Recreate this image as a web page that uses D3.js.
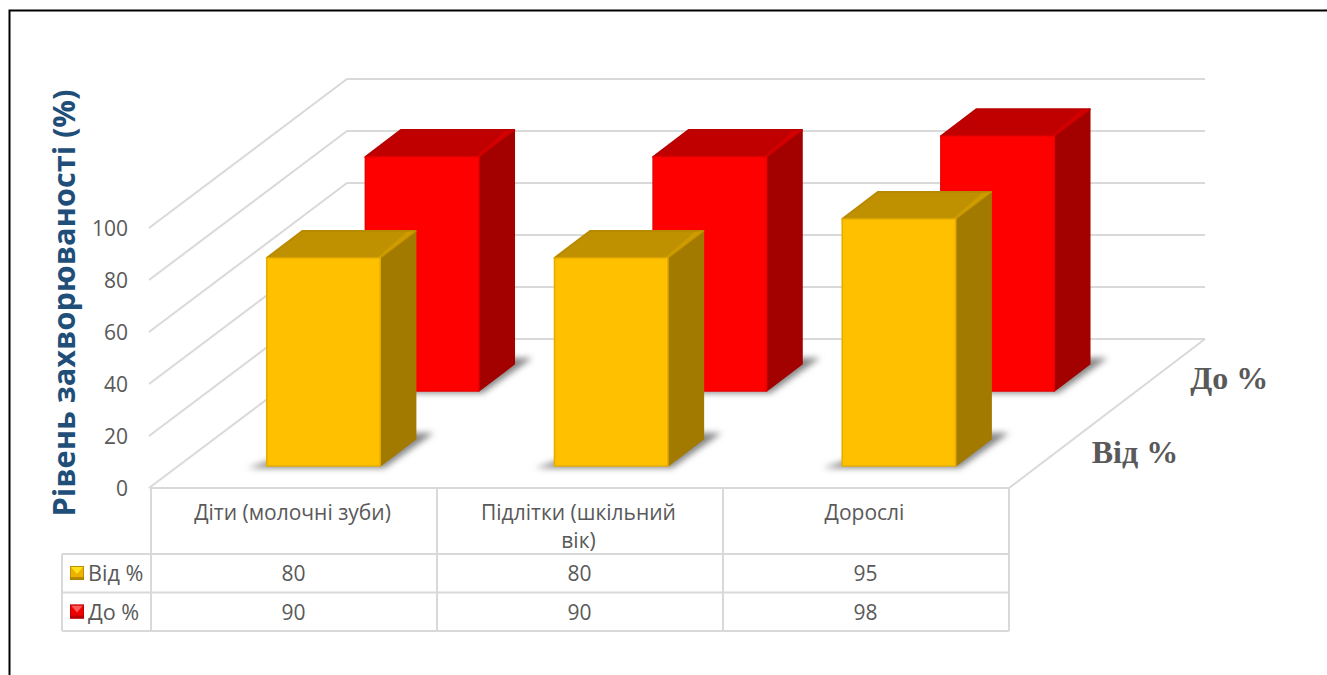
<!DOCTYPE html>
<html lang="uk">
<head>
<meta charset="utf-8">
<title>Рівень захворюваності</title>
<script src="https://cdn.jsdelivr.net/npm/d3@7"></script>
<style>
  html, body { margin: 0; padding: 0; background: #fff; }
  svg { display: block; }
  text { font-family: "Open Sans", sans-serif; fill: #595959; }
</style>
</head>
<body>
<svg id="chart" width="1327" height="675"></svg>
<script>
// Chart data
const categories = ["Діти (молочні зуби)", "Підлітки (шкільний вік)", "Дорослі"];
const categoryLines = [["Діти (молочні зуби)"], ["Підлітки (шкільний", "вік)"], ["Дорослі"]];
const seriesNames = ["Від %", "До %"];
const fromValues = [80, 80, 95];
const toValues = [90, 90, 98];
const yTicks = [0, 20, 40, 60, 80, 100];
const yTitle = "Рівень захворюваності (%)";

const seriesValues = [fromValues, toValues];
const palette = [
  { front: "#FFC000", top: "#BF9000", side: "#A37A00", edge: "#E6AD00", topEdge: "#B88A00", glint: "#CF9C00",
    keyTop: "#FFE21A", keySide: "#EDB200", keyBottom: "#B88A00", keyRim: "#A37A00" },
  { front: "#FF0000", top: "#C00000", side: "#A30000", edge: "#EE0000", topEdge: "#B80000", glint: "#D40000",
    keyTop: "#FF5A5A", keySide: "#F00000", keyBottom: "#BC0000", keyRim: "#A30000" }
];
const shadowColor = "#858585";

// Oblique projection of the 3D box: category position, value height, series depth
const floor = { left: 151, right: 1009, front: 488, dx: 196, dy: -149 };
const columnX = d3.scaleBand().domain(d3.range(categories.length)).range([floor.left, floor.right]);
const x = d3.scaleBand().domain(d3.range(categories.length))
  .range([floor.left + 0.5, 1013]).paddingInner(0.606).paddingOuter(0.3);
const depth = d3.scaleBand().domain(d3.range(seriesNames.length))
  .range([0, 1]).paddingInner(0.64).paddingOuter(0.3136).align(0.468);
const height = d3.scaleLinear().domain([0, 100]).range([0, 260]);
const yAxisScale = d3.scaleLinear().domain([0, 100]).range([floor.front, floor.front - 260]);

const project = (px, v, d) => [px + d * floor.dx, floor.front - height(v) + d * floor.dy];
const poly = pts => "M" + pts.map(p => p.join(",")).join("L") + "Z";

const svg = d3.select("#chart");
const defs = svg.append("defs");
defs.append("filter").attr("id", "soft")
  .attr("x", "-30%").attr("y", "-60%").attr("width", "160%").attr("height", "220%")
  .append("feGaussianBlur").attr("stdDeviation", 3.4);

// Outer frame
svg.append("path").attr("d", "M1327,10.5H9.5V675").attr("fill", "none").attr("stroke", "#000").attr("stroke-width", 2);

const gridColor = "#d9d9d9";

// Walls: side lines and back lines per tick
const grid = svg.append("g").attr("fill", "none").attr("stroke", gridColor).attr("stroke-width", 2);
grid.selectAll("path.tick-line").data(yTicks).join("path")
  .attr("class", "tick-line")
  .attr("d", t => {
    const a = project(floor.left, t, 0), b = project(floor.left, t, 1), c = project(floor.right, t, 1);
    return `M${a[0] - 2},${a[1]}L${b[0]},${b[1]}L${c[0]},${c[1]}`;
  });
// Right-hand floor edge
const fr0 = project(floor.right, 0, 0), fr1 = project(floor.right, 0, 1);
grid.append("line").attr("x1", fr0[0]).attr("y1", fr0[1]).attr("x2", fr1[0]).attr("y2", fr1[1]);

// Bars, back row first so the nearer row overlaps it
const barLayer = svg.append("g");
[1, 0].forEach(s => {
  const col = palette[s];
  const d0 = depth(s), d1 = d0 + depth.bandwidth();
  seriesValues[s].forEach((v, c) => {
    const xa = x(c), xb = xa + x.bandwidth();
    const g = barLayer.append("g");

    // Soft contact shadow on the floor
    const s0 = project(xa, 0, d0), s1 = project(xb, 0, d0), s2 = project(xb, 0, d1);
    g.append("path")
      .attr("d", poly([[s0[0] - 19, s0[1] + 2], [s1[0] + 4, s1[1] + 2], [s2[0] + 18, s2[1] - 6], [s2[0] - 60, s2[1] - 6]]))
      .attr("fill", shadowColor).attr("filter", "url(#soft)");

    const fbl = project(xa, 0, d0), fbr = project(xb, 0, d0);
    const ftl = project(xa, v, d0), ftr = project(xb, v, d0);
    const bbr = project(xb, 0, d1), btr = project(xb, v, d1), btl = project(xa, v, d1);

    // Right side face
    g.append("path").attr("d", poly([fbr, bbr, btr, ftr]))
      .attr("fill", col.side).attr("stroke", col.side).attr("stroke-width", 1.5).attr("stroke-linejoin", "round");
    // Top face
    g.append("path").attr("d", poly([ftl, ftr, btr, btl]))
      .attr("fill", col.top).attr("stroke", col.topEdge).attr("stroke-width", 2).attr("stroke-linejoin", "round");
    // Bevel glint along the top's right edge
    g.append("path").attr("d", poly([ftr, btr, [btr[0] - 9, btr[1] + 1], [ftr[0] - 3, ftr[1]]]))
      .attr("fill", col.glint);
    // Front face
    g.append("path").attr("d", poly([fbl, fbr, ftr, ftl]))
      .attr("fill", col.front).attr("stroke", col.edge).attr("stroke-width", 1.6).attr("stroke-linejoin", "round");
  });
});

// Value axis labels
const yAxis = d3.axisLeft(yAxisScale).tickValues(yTicks).tickSize(0).tickPadding(0);
const yAxisG = svg.append("g").attr("transform", "translate(128,0)").call(yAxis);
yAxisG.select(".domain").remove();
yAxisG.selectAll("text").attr("font-size", 21).attr("font-family", null).attr("dy", "0.34em");

// Value axis title
svg.append("text").attr("transform", "translate(75,303) rotate(-90)")
  .attr("text-anchor", "middle").attr("font-size", 30.7).attr("font-weight", 700)
  .style("fill", "#1F4E79").text(yTitle);

// Depth axis labels
seriesNames.forEach((name, s) => {
  const p = project(floor.right, 0, depth(s) + depth.bandwidth() / 2);
  svg.append("text").attr("x", p[0] + 36).attr("y", p[1] + 11)
    .style("font-family", '"Liberation Serif", serif')
    .attr("font-size", 32).attr("font-weight", 700).text(name);
});

// Data table under the plot
const rowLines = [554, 592.5, 631];
const tableLeft = 62;
const table = svg.append("g").attr("fill", "none").attr("stroke", gridColor).attr("stroke-width", 2);
table.append("line").attr("x1", floor.left).attr("x2", floor.right).attr("y1", floor.front).attr("y2", floor.front);
const columns = d3.range(categories.length + 1).map(i => floor.left + i * columnX.step());
table.selectAll("line.col").data(columns).join("line").attr("class", "col")
  .attr("x1", d => d).attr("x2", d => d).attr("y1", floor.front).attr("y2", rowLines[2]);
table.selectAll("line.row").data(rowLines).join("line").attr("class", "row")
  .attr("x1", tableLeft).attr("x2", floor.right).attr("y1", d => d).attr("y2", d => d);
table.append("line").attr("x1", tableLeft).attr("x2", tableLeft).attr("y1", rowLines[0]).attr("y2", rowLines[2]);

// Category names, wrapped as two lines where needed
categoryLines.forEach((lines, c) => {
  const cx = columnX(c) + columnX.bandwidth() / 2 - 1.5;
  lines.forEach((line, i) => {
    svg.append("text").attr("x", cx).attr("y", 520 + i * 28)
      .attr("text-anchor", "middle").attr("font-size", 21).text(line);
  });
});

// Table rows: legend key, series name, values
const rowText = [581, 620];
seriesNames.forEach((name, s) => {
  const col = palette[s];
  const kx = 70, ky = rowLines[s] + 12, k = 14, m = 3;
  const key = svg.append("g");
  key.append("rect").attr("x", kx).attr("y", ky).attr("width", k).attr("height", k).attr("fill", col.keySide);
  key.append("path").attr("d", poly([[kx + 1, ky + 1], [kx + k - 1, ky + 1], [kx + k / 2, ky + k / 2 + 1]])).attr("fill", col.keyTop);
  key.append("rect").attr("x", kx).attr("y", ky + k - m).attr("width", k).attr("height", m).attr("fill", col.keyBottom);
  key.append("rect").attr("x", kx + 0.5).attr("y", ky + 0.5).attr("width", k - 1).attr("height", k - 1)
    .attr("fill", "none").attr("stroke", col.keyRim).attr("stroke-opacity", 0.6);

  svg.append("text").attr("x", 88).attr("y", rowText[s]).attr("font-size", 21.6).text(name);
  seriesValues[s].forEach((v, c) => {
    svg.append("text").attr("x", columnX(c) + columnX.bandwidth() / 2 - 0.5).attr("y", rowText[s])
      .attr("text-anchor", "middle").attr("font-size", 21).text(v);
  });
});
</script>
</body>
</html>
